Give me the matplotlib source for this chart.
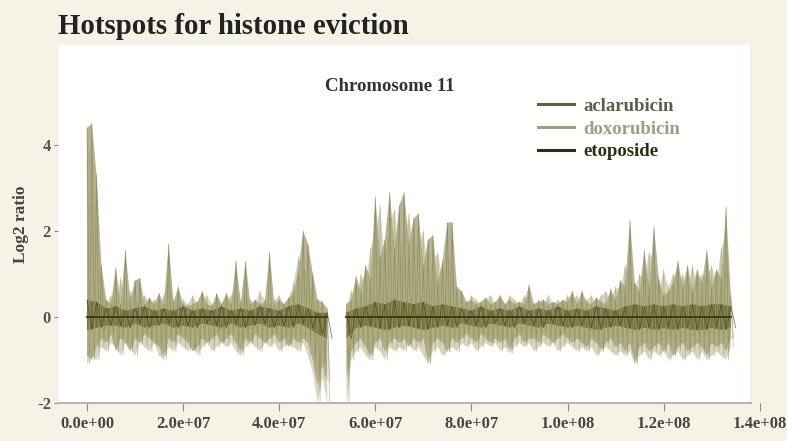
import numpy as np
import matplotlib
matplotlib.use("Agg")
import matplotlib.pyplot as plt
from matplotlib.patches import Rectangle

nan = np.nan

# positions along chromosome 11, in Mb (1 Mb grid, 0..134)
pos_mb = np.arange(0, 135, 1)
# coarser grid for etoposide (2 Mb)
pos_mb_eto = np.arange(0, 135, 2)

# aclarubicin, upper / lower envelope of log2 ratio per Mb
acla_hi = [
    4.4, 4.5, 3.3, 1.2, 0.4, 0.3, 1.15, 0.3, 1.55, 0.4,      # 0-9
    0.85, 0.9, 0.3, 0.45, 0.3, 0.55, 0.3, 1.7, 0.35, 0.7,    # 10-19
    0.3, 0.25, 0.3, 0.35, 0.6, 0.3, 0.25, 0.55, 0.3, 0.55,   # 20-29
    0.3, 1.3, 0.35, 1.3, 0.3, 0.4, 0.3, 0.35, 1.5, 0.3,      # 30-39
    0.4, 0.3, 0.45, 0.6, 1.1, 2.0, 1.7, 1.0, 0.4, 0.35,      # 40-49
    0.2, nan, nan, nan, 0.3, 0.4, 0.95, 0.6, 1.2, 0.9,       # 50-59
    2.8, 1.4, 1.8, 2.9, 1.6, 2.6, 2.9, 1.7, 2.3, 2.4,        # 60-69
    1.2, 1.8, 1.9, 0.8, 1.3, 2.2, 2.2, 0.7, 0.6, 0.35,       # 70-79
    0.4, 0.3, 0.35, 0.45, 0.3, 0.35, 0.5, 0.3, 0.4, 0.3,     # 80-89
    0.35, 0.3, 0.75, 0.3, 0.35, 0.4, 0.3, 0.35, 0.3, 0.4,    # 90-99
    0.35, 0.6, 0.3, 0.6, 0.35, 0.3, 0.45, 0.35, 0.3, 0.65,   # 100-109
    0.4, 0.85, 0.7, 2.25, 0.8, 0.6, 1.55, 0.7, 2.1, 0.9,     # 110-119
    0.5, 0.6, 0.8, 1.3, 0.7, 1.2, 0.6, 1.1, 0.8, 1.55,       # 120-129
    0.7, 1.1, 0.9, 2.55, 0.5,                                # 130-134
]
acla_lo = [
    -0.9, -1.0, -0.7, -0.5, -0.6, -0.4, -0.8, -0.5, -0.6, -0.8,
    -0.5, -0.6, -0.4, -0.5, -0.6, -0.7, -0.9, -0.5, -0.6, -0.4,
    -0.5, -0.6, -0.8, -0.7, -0.5, -0.6, -0.5, -0.4, -0.6, -0.5,
    -0.4, -0.6, -0.8, -0.5, -0.6, -0.4, -0.5, -0.6, -0.5, -0.4,
    -0.6, -0.5, -0.7, -0.5, -0.6, -0.5, -0.6, -1.0, -1.6, -1.1,
    -1.5, nan, nan, nan, -1.4, -0.8, -0.6, -0.5, -0.7, -0.9,
    -0.6, -0.5, -0.8, -0.6, -0.5, -0.6, -0.5, -0.7, -0.5, -0.6,
    -0.5, -1.05, -0.6, -0.5, -0.6, -0.8, -0.5, -0.6, -0.5, -0.4,
    -0.5, -0.6, -0.4, -0.5, -0.6, -0.5, -0.6, -0.5, -0.75, -0.5,
    -0.4, -0.6, -0.5, -0.5, -0.6, -0.4, -0.5, -0.6, -0.5, -0.4,
    -0.5, -0.6, -0.5, -0.6, -0.7, -0.5, -0.6, -0.75, -0.6, -0.5,
    -0.7, -0.6, -0.8, -0.6, -1.05, -0.7, -0.6, -0.8, -0.7, -0.6,
    -0.8, -0.6, -0.9, -0.7, -0.6, -0.8, -0.7, -0.6, -0.7, -0.9,
    -0.6, -0.7, -0.6, -0.8, -0.5,
]

# doxorubicin
doxo_hi = [
    3.6, 4.2, 2.4, 0.8, 0.3, 0.5, 0.4, 0.9, 0.3, 0.6,
    0.3, 0.4, 0.5, 0.3, 0.4, 0.3, 0.5, 0.9, 0.4, 0.3,
    0.4, 0.3, 0.5, 0.3, 0.4, 0.5, 0.3, 0.4, 0.3, 0.4,
    0.5, 0.6, 0.3, 0.5, 0.4, 0.3, 0.6, 0.4, 0.3, 0.4,
    0.5, 0.3, 0.4, 0.8, 1.4, 1.2, 0.9, 0.5, 0.3, 0.2,
    0.1, nan, nan, nan, 0.2, 0.6, 0.4, 1.0, 0.7, 1.6,
    1.9, 2.6, 1.2, 2.2, 2.5, 1.4, 1.8, 2.4, 1.5, 1.7,
    2.0, 1.0, 1.3, 1.5, 0.9, 1.6, 1.0, 0.5, 0.4, 0.3,
    0.5, 0.4, 0.3, 0.4, 0.5, 0.3, 0.4, 0.3, 0.5, 0.4,
    0.3, 0.5, 0.4, 0.3, 0.4, 0.3, 0.5, 0.3, 0.4, 0.3,
    0.5, 0.4, 0.5, 0.3, 0.4, 0.5, 0.3, 0.5, 0.6, 0.4,
    0.7, 0.6, 1.2, 1.0, 0.6, 1.0, 0.9, 1.5, 1.3, 0.6,
    1.1, 0.7, 1.0, 0.8, 1.0, 0.7, 1.2, 0.8, 1.0, 0.9,
    1.2, 0.8, 1.6, 1.9, 0.4,
]
doxo_lo = [
    -1.1, -0.9, -1.0, -0.7, -0.8, -0.6, -0.7, -0.9, -0.6, -0.7,
    -0.9, -0.6, -0.7, -0.8, -0.6, -0.9, -1.0, -0.7, -0.8, -0.6,
    -0.7, -0.8, -0.6, -0.9, -0.7, -0.6, -0.8, -0.7, -0.6, -0.7,
    -0.6, -0.8, -0.9, -0.7, -0.6, -0.7, -0.8, -0.6, -0.7, -0.6,
    -0.8, -0.7, -0.6, -0.7, -0.8, -0.6, -0.9, -1.3, -2.0, -1.4,
    -2.0, nan, nan, nan, -2.0, -1.0, -0.8, -0.7, -0.9, -1.0,
    -0.7, -0.8, -1.0, -0.7, -0.8, -0.7, -0.8, -0.6, -0.8, -0.7,
    -0.9, -1.1, -0.8, -0.7, -0.9, -0.8, -0.7, -0.8, -0.6, -0.7,
    -0.6, -0.8, -0.7, -0.6, -0.7, -0.6, -0.8, -0.7, -0.85, -0.7,
    -0.6, -0.7, -0.6, -0.8, -0.7, -0.6, -0.7, -0.6, -0.8, -0.7,
    -0.6, -0.7, -0.8, -0.7, -0.8, -0.7, -0.9, -0.8, -0.7, -0.8,
    -0.9, -0.8, -0.9, -0.8, -1.1, -0.9, -0.8, -1.0, -0.8, -0.9,
    -0.8, -1.0, -0.9, -0.8, -1.0, -0.9, -0.8, -1.0, -0.8, -1.0,
    -0.9, -0.8, -0.9, -1.0, -0.7,
]

# etoposide (2 Mb grid)
eto_hi = [
    0.4, 0.35, 0.2, 0.25, 0.15, 0.2, 0.25, 0.15, 0.2, 0.15,
    0.25, 0.15, 0.2, 0.15, 0.25, 0.15, 0.2, 0.15, 0.25, 0.2,
    0.15, 0.25, 0.3, 0.2, 0.1, 0.1, nan, 0.1, 0.2, 0.25,
    0.35, 0.3, 0.4, 0.35, 0.3, 0.35, 0.25, 0.3, 0.25, 0.2,
    0.15, 0.25, 0.15, 0.2, 0.15, 0.25, 0.15, 0.2, 0.15, 0.25,
    0.15, 0.2, 0.15, 0.25, 0.2, 0.15, 0.25, 0.3, 0.25, 0.3,
    0.25, 0.3, 0.25, 0.3, 0.25, 0.3, 0.3, 0.25,
]
eto_lo = [
    -0.3, -0.25, -0.2, -0.2, -0.25, -0.15, -0.25, -0.2, -0.15, -0.25,
    -0.2, -0.25, -0.15, -0.2, -0.25, -0.15, -0.25, -0.2, -0.15, -0.25,
    -0.2, -0.25, -0.15, -0.25, -0.4, -0.5, nan, -0.5, -0.25, -0.2,
    -0.25, -0.3, -0.25, -0.2, -0.25, -0.3, -0.25, -0.2, -0.25, -0.15,
    -0.2, -0.25, -0.15, -0.2, -0.25, -0.15, -0.2, -0.25, -0.15, -0.2,
    -0.25, -0.2, -0.25, -0.3, -0.25, -0.2, -0.25, -0.3, -0.25, -0.3,
    -0.25, -0.3, -0.25, -0.3, -0.3, -0.25, -0.3, -0.25,
]

x_ticks = [0, 2e7, 4e7, 6e7, 8e7, 1e8, 1.2e8, 1.4e8]
x_tick_labels = ["0.0e+00", "2.0e+07", "4.0e+07", "6.0e+07", "8.0e+07",
                 "1.0e+08", "1.2e+08", "1.4e+08"]
y_ticks = [-2, 0, 2, 4]

# name, positions, hi, lo, bin width (Mb), colour, fill alpha, line alpha
series = [
    ("aclarubicin", pos_mb, acla_hi, acla_lo, 1.0, "#78753c", 0.55, 0.55),
    ("doxorubicin", pos_mb, doxo_hi, doxo_lo, 1.0, "#a9a678", 0.45, 0.6),
    ("etoposide", pos_mb_eto, eto_hi, eto_lo, 2.0, "#46440e", 0.55, 0.7),
]
legend_colors = {"aclarubicin": "#5e5d45", "doxorubicin": "#9e9e86",
                 "etoposide": "#2e2e12"}


def zigzag(pos, hi, lo, step):
    # alternate between the upper and lower value inside each bin
    pos = np.asarray(pos, dtype=float) * 1e6
    xs = np.column_stack([pos, pos + step * 0.5e6]).ravel()
    ys = np.column_stack([np.asarray(hi, float), np.asarray(lo, float)]).ravel()
    return xs, ys


plt.rcParams["font.family"] = ["Liberation Serif", "DejaVu Serif"]
plt.rcParams["font.weight"] = "bold"
plt.rcParams["axes.unicode_minus"] = False

W, H = 787, 441
fig = plt.figure(figsize=(W / 100, H / 100), dpi=100, facecolor="#f6f3e6")

# white plot panel
fig.patches.append(Rectangle((58 / W, 1 - 403 / H), 692 / W, 358 / H,
                             transform=fig.transFigure, facecolor="white",
                             edgecolor="none", zorder=-5))

ax = fig.add_axes([58 / W, 1 - 403 / H, 707 / W, 358 / H])
ax.set_facecolor("none")
ax.set_zorder(2)

for name, pos, hi, lo, step, color, fa, la in series:
    x = np.asarray(pos, float) * 1e6
    ax.fill_between(x, np.asarray(lo, float), np.asarray(hi, float),
                    color=color, alpha=fa, lw=0)
    xs, ys = zigzag(pos, hi, lo, step)
    ax.plot(xs, ys, color=color, lw=0.6, alpha=la)

# thin dark trace along the baseline of the etoposide profile
ax.plot(np.asarray(pos_mb_eto, float) * 1e6, np.zeros(len(pos_mb_eto)) *
        np.where(np.isnan(eto_hi), nan, 1.0), color="#3a380a", lw=1.4, alpha=0.9)

ax.set_xlim(-6.04e6, 141.1e6)
ax.set_ylim(-2, 6.33)

ax.set_xticks(x_ticks)
ax.set_xticklabels(x_tick_labels)
ax.set_yticks(y_ticks)
ax.tick_params(axis="x", length=6, pad=3, color="#8a8a80", labelsize=12,
               labelcolor="#444444")
ax.tick_params(axis="y", length=3, pad=2, color="#8a8a80", labelsize=12,
               labelcolor="#555555")
for s in ["top", "right", "left"]:
    ax.spines[s].set_visible(False)
ax.spines["bottom"].set_color("#b8b8a8")
ax.spines["bottom"].set_linewidth(1.5)
ax.spines["bottom"].set_bounds(-6.04e6, 138.2e6)

ax.set_ylabel("Log2 ratio", fontsize=12.5, fontweight="bold", color="#444444",
              labelpad=6)

ax.text(0.47, 0.885, "Chromosome 11", transform=ax.transAxes, ha="center",
        va="center", fontsize=13.5, color="#333333")

handles = [plt.Line2D([], [], color=legend_colors[n], lw=2.2) for n, *_ in series]
leg = ax.legend(handles, [n for n, *_ in series], loc="upper left",
                bbox_to_anchor=(0.655, 0.9), frameon=False, fontsize=13.5,
                handlelength=1.9, handletextpad=0.5, labelspacing=0.3)
for txt, (n, *_) in zip(leg.get_texts(), series):
    txt.set_color(legend_colors[n])

fig.text(58 / W, 1 - 27 / H, "Hotspots for histone eviction", ha="left",
         va="center", fontsize=20.7, color="#222222")

fig.savefig("out.png", dpi=100, facecolor=fig.get_facecolor())
